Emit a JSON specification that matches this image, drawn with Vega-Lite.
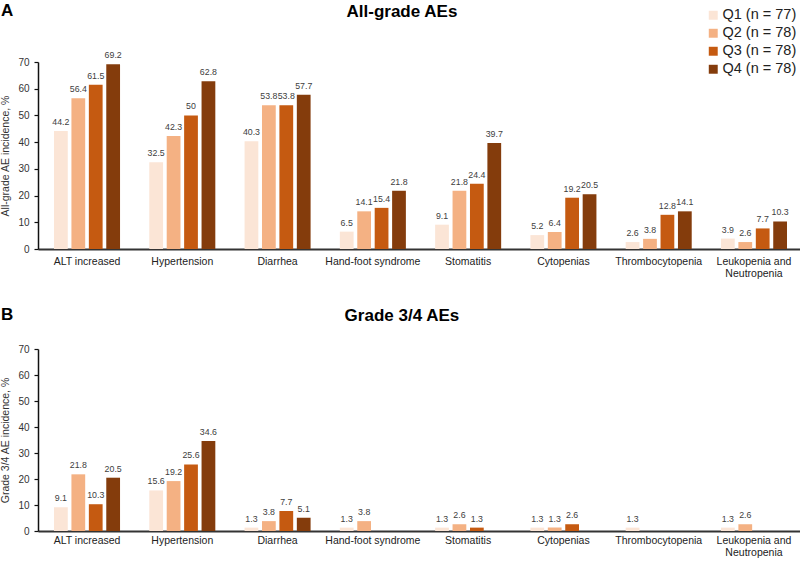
{
  "$schema": "https://vega.github.io/schema/vega-lite/v6.json",
  "padding": {"left": 0, "top": 2, "right": 0, "bottom": 0},
  "background": "white",
  "config": {
    "font": "Liberation Sans",
    "view": {"stroke": null},
    "concat": {"spacing": 27},
    "axis": {"grid": false}
  },
  "datasets": {
    "all": [
      {"cat": "ALT increased", "q": "Q1 (n = 77)", "v": 44.2},
      {"cat": "ALT increased", "q": "Q2 (n = 78)", "v": 56.4},
      {"cat": "ALT increased", "q": "Q3 (n = 78)", "v": 61.5},
      {"cat": "ALT increased", "q": "Q4 (n = 78)", "v": 69.2},
      {"cat": "Hypertension", "q": "Q1 (n = 77)", "v": 32.5},
      {"cat": "Hypertension", "q": "Q2 (n = 78)", "v": 42.3},
      {"cat": "Hypertension", "q": "Q3 (n = 78)", "v": 50},
      {"cat": "Hypertension", "q": "Q4 (n = 78)", "v": 62.8},
      {"cat": "Diarrhea", "q": "Q1 (n = 77)", "v": 40.3},
      {"cat": "Diarrhea", "q": "Q2 (n = 78)", "v": 53.8},
      {"cat": "Diarrhea", "q": "Q3 (n = 78)", "v": 53.8},
      {"cat": "Diarrhea", "q": "Q4 (n = 78)", "v": 57.7},
      {"cat": "Hand-foot syndrome", "q": "Q1 (n = 77)", "v": 6.5},
      {"cat": "Hand-foot syndrome", "q": "Q2 (n = 78)", "v": 14.1},
      {"cat": "Hand-foot syndrome", "q": "Q3 (n = 78)", "v": 15.4},
      {"cat": "Hand-foot syndrome", "q": "Q4 (n = 78)", "v": 21.8},
      {"cat": "Stomatitis", "q": "Q1 (n = 77)", "v": 9.1},
      {"cat": "Stomatitis", "q": "Q2 (n = 78)", "v": 21.8},
      {"cat": "Stomatitis", "q": "Q3 (n = 78)", "v": 24.4},
      {"cat": "Stomatitis", "q": "Q4 (n = 78)", "v": 39.7},
      {"cat": "Cytopenias", "q": "Q1 (n = 77)", "v": 5.2},
      {"cat": "Cytopenias", "q": "Q2 (n = 78)", "v": 6.4},
      {"cat": "Cytopenias", "q": "Q3 (n = 78)", "v": 19.2},
      {"cat": "Cytopenias", "q": "Q4 (n = 78)", "v": 20.5},
      {"cat": "Thrombocytopenia", "q": "Q1 (n = 77)", "v": 2.6},
      {"cat": "Thrombocytopenia", "q": "Q2 (n = 78)", "v": 3.8},
      {"cat": "Thrombocytopenia", "q": "Q3 (n = 78)", "v": 12.8},
      {"cat": "Thrombocytopenia", "q": "Q4 (n = 78)", "v": 14.1},
      {"cat": "Leukopenia and Neutropenia", "q": "Q1 (n = 77)", "v": 3.9},
      {"cat": "Leukopenia and Neutropenia", "q": "Q2 (n = 78)", "v": 2.6},
      {"cat": "Leukopenia and Neutropenia", "q": "Q3 (n = 78)", "v": 7.7},
      {"cat": "Leukopenia and Neutropenia", "q": "Q4 (n = 78)", "v": 10.3}
    ],
    "g34": [
      {"cat": "ALT increased", "q": "Q1 (n = 77)", "v": 9.1},
      {"cat": "ALT increased", "q": "Q2 (n = 78)", "v": 21.8},
      {"cat": "ALT increased", "q": "Q3 (n = 78)", "v": 10.3},
      {"cat": "ALT increased", "q": "Q4 (n = 78)", "v": 20.5},
      {"cat": "Hypertension", "q": "Q1 (n = 77)", "v": 15.6},
      {"cat": "Hypertension", "q": "Q2 (n = 78)", "v": 19.2},
      {"cat": "Hypertension", "q": "Q3 (n = 78)", "v": 25.6},
      {"cat": "Hypertension", "q": "Q4 (n = 78)", "v": 34.6},
      {"cat": "Diarrhea", "q": "Q1 (n = 77)", "v": 1.3},
      {"cat": "Diarrhea", "q": "Q2 (n = 78)", "v": 3.8},
      {"cat": "Diarrhea", "q": "Q3 (n = 78)", "v": 7.7},
      {"cat": "Diarrhea", "q": "Q4 (n = 78)", "v": 5.1},
      {"cat": "Hand-foot syndrome", "q": "Q1 (n = 77)", "v": 1.3},
      {"cat": "Hand-foot syndrome", "q": "Q2 (n = 78)", "v": 3.8},
      {"cat": "Stomatitis", "q": "Q1 (n = 77)", "v": 1.3},
      {"cat": "Stomatitis", "q": "Q2 (n = 78)", "v": 2.6},
      {"cat": "Stomatitis", "q": "Q3 (n = 78)", "v": 1.3},
      {"cat": "Cytopenias", "q": "Q1 (n = 77)", "v": 1.3},
      {"cat": "Cytopenias", "q": "Q2 (n = 78)", "v": 1.3},
      {"cat": "Cytopenias", "q": "Q3 (n = 78)", "v": 2.6},
      {"cat": "Thrombocytopenia", "q": "Q1 (n = 77)", "v": 1.3},
      {"cat": "Leukopenia and Neutropenia", "q": "Q1 (n = 77)", "v": 1.3},
      {"cat": "Leukopenia and Neutropenia", "q": "Q2 (n = 78)", "v": 2.6}
    ]
  },
  "vconcat": [
    {
      "title": {"text": "A", "anchor": "start", "frame": "bounds", "fontSize": 17, "fontWeight": "bold", "color": "#000", "dy": 17, "offset": 0},
      "resolve": {"scale": {"color": "independent"}, "legend": {"color": "independent"}},
      "vconcat": [
        {
          "width": 765,
          "height": 187,
          "data": {"name": "all"},
          "title": {"text": "All-grade AEs", "anchor": "middle", "frame": "bounds", "fontSize": 17, "fontWeight": "bold", "color": "#000", "offset": -13},
          "encoding": {
            "x": {
              "field": "cat", "type": "nominal",
              "scale": {"domain": ["ALT increased", "Hypertension", "Diarrhea", "Hand-foot syndrome", "Stomatitis", "Cytopenias", "Thrombocytopenia", "Leukopenia and Neutropenia"], "paddingInner": 0.307, "paddingOuter": 0.168},
              "axis": {"title": null, "labelAngle": 0, "ticks": false, "domainColor": "#333333", "domainWidth": 2, "labelFontSize": 10.5, "labelColor": "#222222", "labelPadding": 7, "labelLineHeight": 12.5, "labelLimit": 200, "labelExpr": "datum.value == 'Leukopenia and Neutropenia' ? ['Leukopenia and', 'Neutropenia'] : datum.value"}
            },
            "xOffset": {"field": "q", "type": "nominal", "scale": {"domain": ["Q1 (n = 77)", "Q2 (n = 78)", "Q3 (n = 78)", "Q4 (n = 78)"], "paddingInner": 0.21, "paddingOuter": 0}},
            "y": {
              "field": "v", "type": "quantitative",
              "scale": {"domain": [0, 70], "nice": false},
              "axis": {"title": "All-grade AE incidence, %", "values": [0, 10, 20, 30, 40, 50, 60, 70], "domainColor": "#111111", "domainWidth": 1.5, "tickColor": "#111111", "tickSize": 4, "tickWidth": 1.2, "labelFontSize": 10, "labelColor": "#333333", "labelPadding": 5, "titleFontSize": 10.5, "titleFontWeight": "normal", "titleColor": "#333333", "titlePadding": 7}
            }
          },
          "layer": [
            {
              "mark": {"type": "bar"},
              "encoding": {
                "color": {
                  "field": "q", "type": "nominal",
                  "scale": {"domain": ["Q1 (n = 77)", "Q2 (n = 78)", "Q3 (n = 78)", "Q4 (n = 78)"], "range": ["#FBE5D6", "#F4B183", "#C55A11", "#843C0C"]},
                  "legend": {"title": null, "orient": "none", "legendX": 668, "legendY": -54, "symbolType": "square", "symbolSize": 80, "symbolStrokeWidth": 0, "labelFontSize": 14.5, "labelColor": "#222222", "rowPadding": 3, "labelOffset": 2, "padding": 0}
                }
              }
            },
            {
              "mark": {"type": "text", "baseline": "bottom", "dy": -4, "fontSize": 8.8, "color": "#404040"},
              "encoding": {"text": {"field": "v", "type": "quantitative"}}
            }
          ]
        }
      ]
    },
    {
      "title": {"text": "B", "anchor": "start", "frame": "bounds", "fontSize": 17, "fontWeight": "bold", "color": "#000", "dy": 17, "offset": 0},
      "resolve": {"scale": {"color": "independent"}, "legend": {"color": "independent"}},
      "vconcat": [
        {
          "width": 765,
          "height": 182,
          "data": {"name": "g34"},
          "title": {"text": "Grade 3/4 AEs", "anchor": "middle", "frame": "bounds", "fontSize": 17, "fontWeight": "bold", "color": "#000", "offset": 19},
          "encoding": {
            "x": {
              "field": "cat", "type": "nominal",
              "scale": {"domain": ["ALT increased", "Hypertension", "Diarrhea", "Hand-foot syndrome", "Stomatitis", "Cytopenias", "Thrombocytopenia", "Leukopenia and Neutropenia"], "paddingInner": 0.307, "paddingOuter": 0.168},
              "axis": {"title": null, "labelAngle": 0, "ticks": false, "domainColor": "#333333", "domainWidth": 2, "labelFontSize": 10.5, "labelColor": "#222222", "labelPadding": 4, "labelLineHeight": 12.5, "labelLimit": 200, "labelExpr": "datum.value == 'Leukopenia and Neutropenia' ? ['Leukopenia and', 'Neutropenia'] : datum.value"}
            },
            "xOffset": {"field": "q", "type": "nominal", "scale": {"domain": ["Q1 (n = 77)", "Q2 (n = 78)", "Q3 (n = 78)", "Q4 (n = 78)"], "paddingInner": 0.21, "paddingOuter": 0}},
            "y": {
              "field": "v", "type": "quantitative",
              "scale": {"domain": [0, 70], "nice": false},
              "axis": {"title": "Grade 3/4 AE incidence, %", "values": [0, 10, 20, 30, 40, 50, 60, 70], "domainColor": "#111111", "domainWidth": 1.5, "tickColor": "#111111", "tickSize": 4, "tickWidth": 1.2, "labelFontSize": 10, "labelColor": "#333333", "labelPadding": 5, "titleFontSize": 10.5, "titleFontWeight": "normal", "titleColor": "#333333", "titlePadding": 7}
            }
          },
          "layer": [
            {
              "mark": {"type": "bar"},
              "encoding": {
                "color": {
                  "field": "q", "type": "nominal",
                  "scale": {"domain": ["Q1 (n = 77)", "Q2 (n = 78)", "Q3 (n = 78)", "Q4 (n = 78)"], "range": ["#FBE5D6", "#F4B183", "#C55A11", "#843C0C"]},
                  "legend": null
                }
              }
            },
            {
              "mark": {"type": "text", "baseline": "bottom", "dy": -4, "fontSize": 8.8, "color": "#404040"},
              "encoding": {"text": {"field": "v", "type": "quantitative"}}
            }
          ]
        }
      ]
    }
  ]
}
